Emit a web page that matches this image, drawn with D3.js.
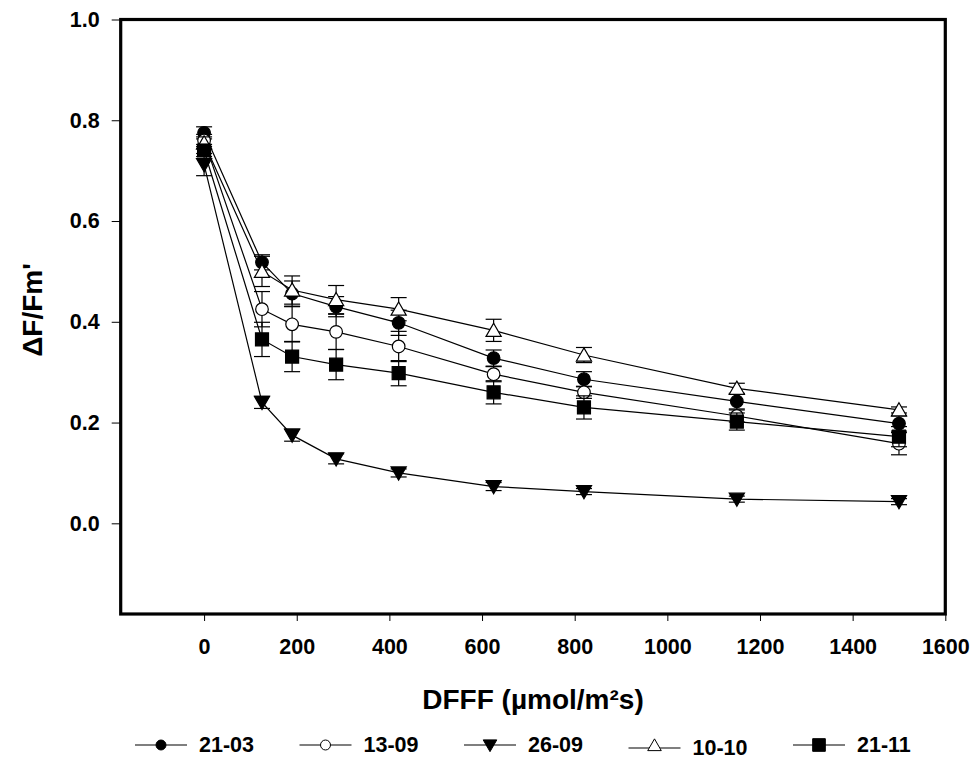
<!DOCTYPE html>
<html>
<head>
<meta charset="utf-8">
<script src="https://cdn.jsdelivr.net/npm/d3@7"></script>
<style>
  html, body { margin: 0; padding: 0; background: #fff; }
  svg { display: block; }
  text { font-family: "Liberation Sans", Arial, sans-serif; font-weight: bold; fill: #000; }
</style>
</head>
<body>
<svg id="chart" width="976" height="760"></svg>
<script>
// PPFD steps of the light curve (µmol/m²s)
const dfff = [0, 125, 190, 285, 420, 625, 820, 1150, 1500];

// Effective quantum yield ΔF/Fm' per sampling date
const y2103 = [0.775, 0.518, 0.456, 0.430, 0.398, 0.328, 0.286, 0.242, 0.198];
const y1309 = [0.760, 0.425, 0.395, 0.380, 0.351, 0.296, 0.260, 0.213, 0.158];
const y2609 = [0.712, 0.240, 0.175, 0.128, 0.100, 0.073, 0.063, 0.048, 0.043];
const y1010 = [0.755, 0.500, 0.463, 0.444, 0.425, 0.383, 0.334, 0.268, 0.225];
const y2111 = [0.740, 0.365, 0.331, 0.315, 0.298, 0.260, 0.230, 0.202, 0.172];

// Standard errors
const e2103 = [0.012, 0.015, 0.025, 0.020, 0.025, 0.016, 0.015, 0.015, 0.015];
const e1309 = [0.012, 0.035, 0.035, 0.035, 0.030, 0.015, 0.012, 0.012, 0.022];
const e2609 = [0.022, 0.012, 0.012, 0.010, 0.008, 0.008, 0.006, 0.006, 0.006];
const e1010 = [0.012, 0.030, 0.028, 0.028, 0.023, 0.022, 0.015, 0.010, 0.006];
const e2111 = [0.012, 0.034, 0.030, 0.030, 0.025, 0.023, 0.023, 0.017, 0.020];

// Series names (legend order) and axis ticks
const seriesNames = ["21-03", "13-09", "26-09", "10-10", "21-11"];
const xTicks = [0, 200, 400, 600, 800, 1000, 1200, 1400, 1600];
const yTicks = [0.0, 0.2, 0.4, 0.6, 0.8, 1.0];

const series = [
  { name: seriesNames[0], y: y2103, e: e2103, shape: "circle",  fill: "#000", legendDy: 0 },
  { name: seriesNames[1], y: y1309, e: e1309, shape: "circle",  fill: "#fff", legendDy: 0 },
  { name: seriesNames[2], y: y2609, e: e2609, shape: "triDown", fill: "#000", legendDy: 0 },
  { name: seriesNames[3], y: y1010, e: e1010, shape: "triUp",   fill: "#fff", legendDy: 3 },
  { name: seriesNames[4], y: y2111, e: e2111, shape: "square",  fill: "#000", legendDy: 0 }
];

const svg = d3.select("#chart");
const plot = { left: 120.7, right: 945.3, top: 19.5, bottom: 614 };

const x = d3.scaleLinear().domain([-180, 1600]).range([plot.left, plot.right]);
const y = d3.scaleLinear().domain([-0.18, 1.0]).range([plot.bottom, plot.top]);

// Marker path generator
function symbolPath(shape, big) {
  const sizes = big
    ? { circle: 125, square: 169, tri: 100 }
    : { circle: 78, square: 160, tri: 80 };
  if (shape === "circle") return d3.symbol(d3.symbolCircle, sizes.circle)();
  if (shape === "square") return d3.symbol(d3.symbolSquare, sizes.square)();
  return d3.symbol(d3.symbolTriangle, sizes.tri)();
}
function symbolTransform(shape, px, py, big) {
  const tri = big ? 1.6 : 1.2;
  if (shape === "triUp") return `translate(${px},${py + (big ? tri : -1.3)})`;
  if (shape === "triDown") return `translate(${px},${py - tri}) rotate(180)`;
  return `translate(${px},${py})`;
}

// Axes (ticks and labels only; the frame is drawn separately)
const yAxis = d3.axisLeft(y).tickValues(yTicks).tickFormat(d3.format(".1f"))
  .tickSize(9).tickPadding(12);
const xAxis = d3.axisBottom(x).tickValues(xTicks).tickFormat(d3.format("d"))
  .tickSize(7).tickPadding(18);

const gy = svg.append("g").attr("transform", `translate(${plot.left},0)`).call(yAxis);
const gx = svg.append("g").attr("transform", `translate(0,${plot.bottom})`).call(xAxis);
[gy, gx].forEach(g => {
  g.select(".domain").remove();
  g.selectAll(".tick line").attr("stroke", "#000").attr("stroke-width", 1);
  g.selectAll(".tick text")
    .style("font-family", '"Liberation Sans", Arial, sans-serif')
    .style("font-weight", "bold").style("font-size", "21.5px").attr("fill", "#000");
});

// Data series: error bars, connecting line, markers
const line = d3.line().x(d => x(d[0])).y(d => y(d[1]));
const capHalf = 8;
series.forEach(s => {
  const g = svg.append("g");
  const pts = dfff.map((v, i) => [v, s.y[i], s.e[i]]);

  const eb = g.append("g").attr("stroke", "#000").attr("stroke-width", 1.2).attr("fill", "none");
  pts.forEach(p => {
    const px = x(p[0]), hi = y(p[1] + p[2]), lo = y(p[1] - p[2]);
    eb.append("line").attr("x1", px).attr("x2", px).attr("y1", hi).attr("y2", lo);
    eb.append("line").attr("x1", px - capHalf).attr("x2", px + capHalf).attr("y1", hi).attr("y2", hi);
    eb.append("line").attr("x1", px - capHalf).attr("x2", px + capHalf).attr("y1", lo).attr("y2", lo);
  });

  g.append("path").datum(pts).attr("d", line)
    .attr("fill", "none").attr("stroke", "#000").attr("stroke-width", 1.2);

  g.selectAll(".mk").data(pts).enter().append("path")
    .attr("d", symbolPath(s.shape, true))
    .attr("transform", p => symbolTransform(s.shape, x(p[0]), y(p[1]), true))
    .attr("fill", s.fill).attr("stroke", "#000").attr("stroke-width", 1.2);
});

// Plot frame
svg.append("rect")
  .attr("x", plot.left).attr("y", plot.top)
  .attr("width", plot.right - plot.left).attr("height", plot.bottom - plot.top)
  .attr("fill", "none").attr("stroke", "#000").attr("stroke-width", 3.2);

// Axis titles
svg.append("text")
  .attr("x", (plot.left + plot.right) / 2).attr("y", 709)
  .attr("text-anchor", "middle").style("font-size", "28px")
  .text("DFFF (\u00b5mol/m\u00b2s)");

svg.append("text")
  .attr("transform", "translate(42,310) rotate(-90)")
  .attr("text-anchor", "middle").style("font-size", "28px")
  .text("\u0394F/Fm'");

// Legend
const legend = { x0: 135, step: 164.5, lineY: 745, lineLen: 52, textDx: 64, textY: 752 };
series.forEach((s, i) => {
  const lx = legend.x0 + i * legend.step;
  const ly = legend.lineY + s.legendDy;
  const g = svg.append("g");
  g.append("line")
    .attr("x1", lx).attr("x2", lx + legend.lineLen)
    .attr("y1", ly).attr("y2", ly)
    .attr("stroke", "#000").attr("stroke-width", 1.2);
  g.append("path")
    .attr("d", symbolPath(s.shape, false))
    .attr("transform", symbolTransform(s.shape, lx + legend.lineLen / 2, ly, false))
    .attr("fill", s.fill).attr("stroke", "#000").attr("stroke-width", 1);
  g.append("text")
    .attr("x", lx + legend.textDx)
    .attr("y", legend.textY + s.legendDy)
    .style("font-size", "21.5px")
    .text(s.name);
});
</script>
</body>
</html>
